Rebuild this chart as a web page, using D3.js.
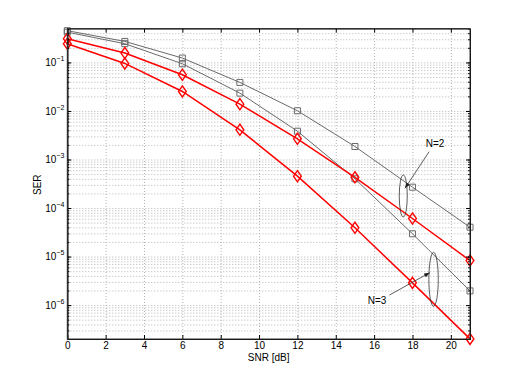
<!DOCTYPE html>
<html>
<head>
<meta charset="utf-8">
<script src="https://cdn.jsdelivr.net/npm/d3@7"></script>
<style>
  body { margin: 0; background: #fff; }
  svg text { font-family: "Liberation Sans", Arial, Helvetica, sans-serif; }
  .grid line { stroke: #b4b4b4; stroke-dasharray: 1,2; }
  .grid path { display: none; }
</style>
</head>
<body>
<div id="chart"></div>
<script>
// SNR points (dB)
var snr = [0, 3, 6, 9, 12, 15, 18, 21];
// N=2, gray squares
var serGrayN2 = [0.451, 0.271, 0.123, 0.0387, 0.0101, 1.85e-3, 2.69e-4, 4.02e-5];
// N=3, gray squares
var serGrayN3 = [0.42, 0.243, 0.094, 0.0233, 3.83e-3, 4.0e-4, 2.94e-5, 1.96e-6];
// N=2, red diamonds
var serRedN2 = [0.308, 0.156, 0.0557, 0.0138, 2.67e-3, 4.3e-4, 6.08e-5, 8.27e-6];
// N=3, red diamonds
var serRedN3 = [0.243, 0.0953, 0.0252, 4.09e-3, 4.53e-4, 3.91e-5, 2.87e-6, 2.01e-7];

var xTicks = [0, 2, 4, 6, 8, 10, 12, 14, 16, 18, 20];
var yTickExp = [-1, -2, -3, -4, -5, -6];

var width = 519, height = 381;
var margin = {top: 28.5, right: 49, bottom: 42, left: 67.3};

var svg = d3.select("#chart").append("svg")
    .attr("width", width)
    .attr("height", height);

var x = d3.scaleLinear().domain([0, 21]).range([margin.left, width - margin.right]);
var y = d3.scaleLog().domain([2e-7, 0.5]).range([height - margin.bottom, margin.top]);

var x0 = x.range()[0], x1 = x.range()[1];
var y0 = y.range()[0], y1 = y.range()[1];

// minor positions for the log axis
var yMinor = [];
for (var e = -7; e <= 0; e++) {
    for (var k = 1; k <= 9; k++) {
        var v = k * Math.pow(10, e);
        if (v >= 2e-7 && v <= 0.5) yMinor.push(v);
    }
}
var yMajor = yTickExp.map(function(p) { return Math.pow(10, p); });

// grid
svg.append("g")
    .attr("class", "grid")
    .attr("transform", "translate(0," + y0 + ")")
    .call(d3.axisBottom(x).tickValues(xTicks.slice(1)).tickSize(-(y0 - y1)).tickFormat(""));
svg.append("g")
    .attr("class", "grid")
    .attr("transform", "translate(" + x0 + ",0)")
    .call(d3.axisLeft(y).tickValues(yMinor).tickSize(-(x1 - x0)).tickFormat(""));

// series
var series = [
    {vals: serGrayN2, color: "#6a6a6a", w: 1, marker: "square"},
    {vals: serGrayN3, color: "#6a6a6a", w: 1, marker: "square"},
    {vals: serRedN2, color: "#ff0000", w: 1.5, marker: "diamond"},
    {vals: serRedN3, color: "#ff0000", w: 1.5, marker: "diamond"}
];

var line = d3.line()
    .x(function(d) { return x(d[0]); })
    .y(function(d) { return y(d[1]); });

series.forEach(function(s) {
    var pts = snr.map(function(t, i) { return [t, s.vals[i]]; });
    svg.append("path")
        .datum(pts)
        .attr("fill", "none")
        .attr("stroke", s.color)
        .attr("stroke-width", s.w)
        .attr("d", line);
    var sym = s.marker == "square"
        ? d3.symbol().type(d3.symbolSquare).size(36)
        : d3.symbol().type(d3.symbolDiamond2).size(60);
    svg.append("g").selectAll("path")
        .data(pts)
        .enter().append("path")
        .attr("transform", function(d) { return "translate(" + x(d[0]) + "," + y(d[1]) + ")" + (s.marker == "diamond" ? " scale(0.8,1.15)" : ""); })
        .attr("d", sym)
        .attr("fill", "none")
        .attr("stroke", s.color)
        .attr("stroke-width", s.marker == "square" ? 1 : 1.5);
});

// axes box with inward ticks
var xb = svg.append("g")
    .attr("transform", "translate(0," + y0 + ")")
    .call(d3.axisBottom(x).tickValues(xTicks).tickSizeInner(-4).tickSizeOuter(0).tickPadding(3));
xb.selectAll("text").attr("font-size", 10).attr("fill", "#000");

svg.append("g")
    .attr("transform", "translate(0," + y1 + ")")
    .call(d3.axisTop(x).tickValues(xTicks).tickSizeInner(-4).tickSizeOuter(0).tickFormat(""));

var yl = svg.append("g")
    .attr("transform", "translate(" + x0 + ",0)")
    .call(d3.axisLeft(y).tickValues(yMajor).tickSizeInner(-4).tickSizeOuter(0).tickPadding(14));
svg.append("g")
    .attr("transform", "translate(" + x0 + ",0)")
    .call(d3.axisLeft(y).tickValues(yMinor).tickSizeInner(-2).tickSizeOuter(0).tickFormat(""));
svg.append("g")
    .attr("transform", "translate(" + x1 + ",0)")
    .call(d3.axisRight(y).tickValues(yMajor).tickSizeInner(-4).tickSizeOuter(0).tickFormat(""));
svg.append("g")
    .attr("transform", "translate(" + x1 + ",0)")
    .call(d3.axisRight(y).tickValues(yMinor).tickSizeInner(-2).tickSizeOuter(0).tickFormat(""));

yl.selectAll("text").each(function(d) {
    var t = d3.select(this);
    var p = Math.round(Math.log10(d));
    t.text(null).attr("font-size", 10).attr("fill", "#000").attr("x", -3).attr("text-anchor", "end");
    t.append("tspan").text("10");
    t.append("tspan").attr("font-size", 7).attr("dy", -5).text("\u2212" + Math.abs(p));
});

svg.selectAll(".domain").attr("stroke", "#000");

// box
svg.append("rect")
    .attr("x", x0).attr("y", y1)
    .attr("width", x1 - x0).attr("height", y0 - y1)
    .attr("fill", "none").attr("stroke", "#333").attr("stroke-width", 1);

// axis labels
svg.append("text")
    .attr("x", (x0 + x1) / 2).attr("y", y0 + 22)
    .attr("text-anchor", "middle").attr("font-size", 10)
    .text("SNR [dB]");
svg.append("text")
    .attr("transform", "translate(41," + ((y0 + y1) / 2 + 1) + ") rotate(-90)")
    .attr("text-anchor", "middle").attr("font-size", 10)
    .text("SER");

// annotations
var defs = svg.append("defs");
defs.append("marker")
    .attr("id", "arr").attr("viewBox", "0 0 10 10")
    .attr("refX", 10).attr("refY", 5)
    .attr("markerWidth", 7).attr("markerHeight", 7)
    .attr("orient", "auto")
    .append("path").attr("d", "M0,1 L10,5 L0,9 Z").attr("fill", "#222");

var notes = [
    {label: "N=2", tx: 435, ty: 147, from: [18.87, 1.45e-3], to: [17.61, 2.55e-4], ex: 17.52, ey: 1.77e-4, rx: 4, ry: 21},
    {label: "N=3", tx: 377, ty: 304, from: [16.8, 1.61e-6], to: [18.9, 4.65e-6], ex: 19.1, ey: 3.4e-6, rx: 4.7, ry: 27}
];
notes.forEach(function(n) {
    svg.append("ellipse")
        .attr("cx", x(n.ex)).attr("cy", y(n.ey))
        .attr("rx", n.rx).attr("ry", n.ry)
        .attr("fill", "none").attr("stroke", "#333").attr("stroke-width", 0.8);
    svg.append("line")
        .attr("x1", x(n.from[0])).attr("y1", y(n.from[1]))
        .attr("x2", x(n.to[0])).attr("y2", y(n.to[1]))
        .attr("stroke", "#333").attr("stroke-width", 0.8)
        .attr("marker-end", "url(#arr)");
    svg.append("text")
        .attr("x", n.tx).attr("y", n.ty)
        .attr("text-anchor", "middle").attr("font-size", 10)
        .text(n.label);
});
</script>
</body>
</html>
